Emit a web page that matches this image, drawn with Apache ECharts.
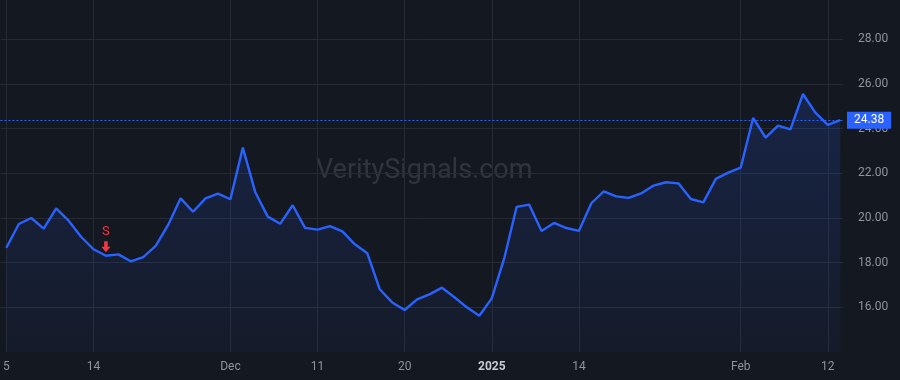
<!DOCTYPE html>
<html>
<head>
<meta charset="utf-8">
<script src="https://cdn.jsdelivr.net/npm/echarts@6/dist/echarts.min.js"></script>
<style>
  html, body { margin: 0; padding: 0; background: #141821; }
  #chart { width: 900px; height: 380px; }
</style>
</head>
<body>
<div id="chart"></div>
<script>
// Trading days (Nov 5 2024 - Feb 13 2025)
const dates = [
  '2024-11-05','2024-11-06','2024-11-07','2024-11-08','2024-11-11','2024-11-12','2024-11-13','2024-11-14','2024-11-15',
  '2024-11-18','2024-11-19','2024-11-20','2024-11-21','2024-11-22','2024-11-25','2024-11-26','2024-11-27','2024-11-29',
  '2024-12-02','2024-12-03','2024-12-04','2024-12-05','2024-12-06','2024-12-09','2024-12-10','2024-12-11','2024-12-12',
  '2024-12-13','2024-12-16','2024-12-17','2024-12-18','2024-12-19','2024-12-20','2024-12-23','2024-12-24','2024-12-26',
  '2024-12-27','2024-12-30','2024-12-31','2025-01-02','2025-01-03','2025-01-06','2025-01-07','2025-01-08','2025-01-10',
  '2025-01-13','2025-01-14','2025-01-15','2025-01-16','2025-01-17','2025-01-21','2025-01-22','2025-01-23','2025-01-24',
  '2025-01-27','2025-01-28','2025-01-29','2025-01-30','2025-01-31','2025-02-03','2025-02-04','2025-02-05','2025-02-06',
  '2025-02-07','2025-02-10','2025-02-11','2025-02-12','2025-02-13'
];
const prices = [
  18.67, 19.73, 20.00, 19.52, 20.43, 19.88, 19.16, 18.60, 18.31,
  18.37, 18.06, 18.25, 18.75, 19.69, 20.88, 20.28, 20.88, 21.09,
  20.84, 23.15, 21.15, 20.06, 19.74, 20.57, 19.56, 19.48, 19.64,
  19.40, 18.82, 18.42, 16.81, 16.22, 15.88, 16.36, 16.58, 16.88,
  16.45, 16.00, 15.62, 16.40, 18.19, 20.50, 20.60, 19.42, 19.78,
  19.55, 19.42, 20.66, 21.19, 20.97, 20.90, 21.10, 21.45, 21.60,
  21.55, 20.85, 20.70, 21.75, 22.03, 22.25, 24.48, 23.60, 24.14,
  23.97, 25.55, 24.72, 24.17, 24.38
];
const lastPrice = 24.38;
// x tick positions (index into dates) and their labels
const xTickIdx = [0, 7, 18, 25, 32, 39, 46, 59, 66];
const xTickLabels = ['5', '14', 'Dec', '11', '20', '2025', '14', 'Feb', '12'];
const yTicks = [16, 18, 20, 22, 24, 26, 28];
// signal markers
const signalIdx = [8];
const signalText = ['S'];

const FONT = 'Roboto, "Noto Sans", sans-serif';
const chart = echarts.init(document.getElementById('chart'), null, { renderer: 'canvas' });

const seriesData = prices.map((v, i) => [i, v]);

chart.setOption({
  backgroundColor: '#141821',
  animation: false,
  textStyle: { fontFamily: FONT },
  grid: { left: 0, right: 57, top: 0, bottom: 28, containLabel: false },
  graphic: [{
    type: 'text',
    left: 316, top: 158,
    z: 0,
    style: {
      text: 'VeritySignals.com',
      fill: 'rgba(255,255,255,0.12)',
      font: '27px ' + FONT
    }
  }],
  xAxis: {
    type: 'value',
    min: -0.48,
    max: 67.22,
    axisLine: { show: false },
    axisTick: { show: false, customValues: xTickIdx },
    axisLabel: {
      customValues: xTickIdx,
      color: '#8f939c',
      fontSize: 12,
      margin: 9,
      fontFamily: FONT,
      formatter: function (v) {
        const k = xTickIdx.indexOf(Math.round(v));
        if (k < 0) return '';
        const t = xTickLabels[k];
        return dates[xTickIdx[k]].endsWith('01-02') ? '{b|' + t + '}' : t;
      },
      rich: { b: { fontWeight: 'bold', color: '#c8cad0', fontSize: 12, fontFamily: FONT } }
    },
    splitLine: { show: true, lineStyle: { color: '#262a35', width: 1 } }
  },
  yAxis: {
    type: 'value',
    position: 'right',
    min: 14,
    max: 29.76,
    axisLine: { show: false },
    axisTick: { show: false, customValues: yTicks },
    axisLabel: {
      customValues: yTicks,
      color: '#8f939c',
      fontSize: 12,
      margin: 15,
      fontFamily: FONT,
      formatter: v => v.toFixed(2)
    },
    splitLine: { show: true, lineStyle: { color: '#262a35', width: 1 } }
  },
  series: [{
    type: 'line',
    data: seriesData,
    symbol: 'none',
    z: 3,
    lineStyle: { color: '#2962ff', width: 2.4 },
    areaStyle: {
      color: new echarts.graphic.LinearGradient(0, 0, 0, 1, [
        { offset: 0, color: 'rgba(41,98,255,0.24)' },
        { offset: 1, color: 'rgba(41,98,255,0.05)' }
      ])
    },
    markLine: {
      silent: true,
      symbol: 'none',
      animation: false,
      lineStyle: { color: '#2962ff', type: [2, 2], width: 1 },
      label: {
        show: true,
        position: 'end',
        distance: 4,
        formatter: () => lastPrice.toFixed(2),
        color: '#ffffff',
        backgroundColor: '#2962ff',
        padding: [3, 7, 2, 7],
        fontSize: 12,
        fontFamily: FONT
      },
      data: [{ yAxis: lastPrice }]
    },
    markPoint: {
      silent: true,
      animation: false,
      symbol: 'path://M3,0 L7,0 L7,5 L10,5 L5,10 L0,5 L3,5 Z',
      symbolSize: [9, 11],
      symbolOffset: [0, -9],
      itemStyle: { color: '#f23645' },
      label: {
        show: true,
        position: 'top',
        distance: 3,
        color: '#f23645',
        fontSize: 13,
        fontFamily: FONT
      },
      data: signalIdx.map((ix, k) => ({
        coord: [ix, prices[ix]],
        value: signalText[k],
        label: { formatter: signalText[k] }
      }))
    }
  }]
});
</script>
</body>
</html>
